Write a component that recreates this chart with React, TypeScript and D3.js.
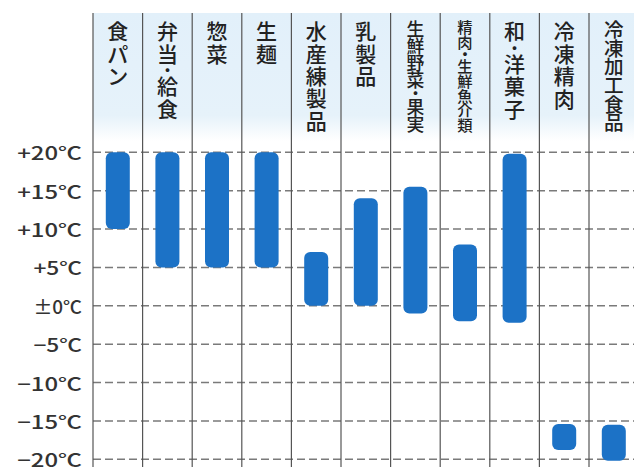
import React from 'react';
import * as d3 from 'd3';

const categories = ['食パン', '弁当・給食', '惣菜', '生麺', '水産練製品', '乳製品', '生鮮野菜・果実', '精肉・生鮮魚介類', '和・洋菓子', '冷凍精肉', '冷凍加工食品'];
const highs = [20, 20, 20, 20, 7, 14, 15.5, 8, 19.8, -15.4, -15.5];
const lows = [10, 5, 5, 5, 0, 0, -1, -2, -2.2, -18.8, -20.2];
const tickValues = [20, 15, 10, 5, 0, -5, -10, -15, -20];
const tickLabels = ['+20℃', '+15℃', '+10℃', '+5℃', '±0℃', '−5℃', '−10℃', '−15℃', '−20℃'];

const W = 634;
const H = 467;
const colW = 49.6;
const left = 93;
const headerTop = 13;
const BLUE = '#1c72c6';
const FONT = '"Noto Sans CJK JP", "Noto Sans", sans-serif';

function Label({ text, cx }: { text: string; cx: number }) {
  const chars = Array.from(text);
  const dots = chars.filter(c => c === '・').length;
  const normal = chars.length - dots;
  const dotPitch = 10;
  const pitch = Math.min(22.5, (112 - dots * dotPitch) / normal);
  const size = Math.min(21, pitch * 1.05);
  let y = 19;
  const items: { c: string; y: number }[] = [];
  chars.forEach(c => {
    const h = c === '・' ? dotPitch : pitch;
    items.push({ c, y: y + h / 2 });
    y += h;
  });
  return (
    <g>
      {items.map((it, i) => (
        <text key={i} x={cx} y={it.y} textAnchor="middle" dominantBaseline="central"
          fontFamily={FONT} fontWeight={500} fontSize={it.c === '・' ? 16 : size} fill="#222">{it.c}</text>
      ))}
    </g>
  );
}

export default function App() {
  if (typeof document !== 'undefined') document.body.style.margin = '0';

  const x = d3.scaleBand<string>()
    .domain(categories)
    .range([left, left + categories.length * colW]);

  const y = d3.scaleLinear().domain([-20, 20]).range([459.3, 152.3]);

  const barW = 24;

  return (
    <svg width={W} height={H} style={{ display: 'block', background: '#fff' }}>
      <defs>
        <linearGradient id="hdr" x1="0" y1="0" x2="0" y2="1">
          <stop offset="0%" stopColor="#e2f0fa" />
          <stop offset="80%" stopColor="#e6f2fa" />
          <stop offset="100%" stopColor="#ffffff" />
        </linearGradient>
      </defs>

      {/* header band */}
      <rect x={left} y={headerTop} width={W - left} height={128} fill="url(#hdr)" />

      {/* dashed grid */}
      {tickValues.map(t => (
        <line key={t} x1={left} x2={W} y1={y(t)} y2={y(t)}
          stroke="#7a7a7a" strokeWidth={1.5} strokeDasharray="8 4" />
      ))}

      {/* column separators */}
      {categories.map(c => (
        <line key={c} x1={x(c)!} x2={x(c)!} y1={headerTop} y2={H}
          stroke="#555" strokeWidth={1.2} />
      ))}

      {/* tick labels */}
      {tickValues.map((t, i) => (
        <text key={t} x={82} y={y(t)} textAnchor="end" dominantBaseline="central"
          fontFamily={FONT} fontWeight={500} fontSize={18} fill="#333"
          textLength={tickLabels[i].length * 16.2} lengthAdjust="spacingAndGlyphs">
          {tickLabels[i]}
        </text>
      ))}

      {/* range bars */}
      {categories.map((c, i) => {
        const cx = x(c)! + x.bandwidth() / 2;
        return (
          <rect key={c} x={cx - barW / 2} y={y(highs[i])} width={barW}
            height={y(lows[i]) - y(highs[i])} rx={6} fill={BLUE} />
        );
      })}

      {/* header labels */}
      {categories.map(c => (
        <Label key={c} text={c} cx={x(c)! + x.bandwidth() / 2} />
      ))}
    </svg>
  );
}
